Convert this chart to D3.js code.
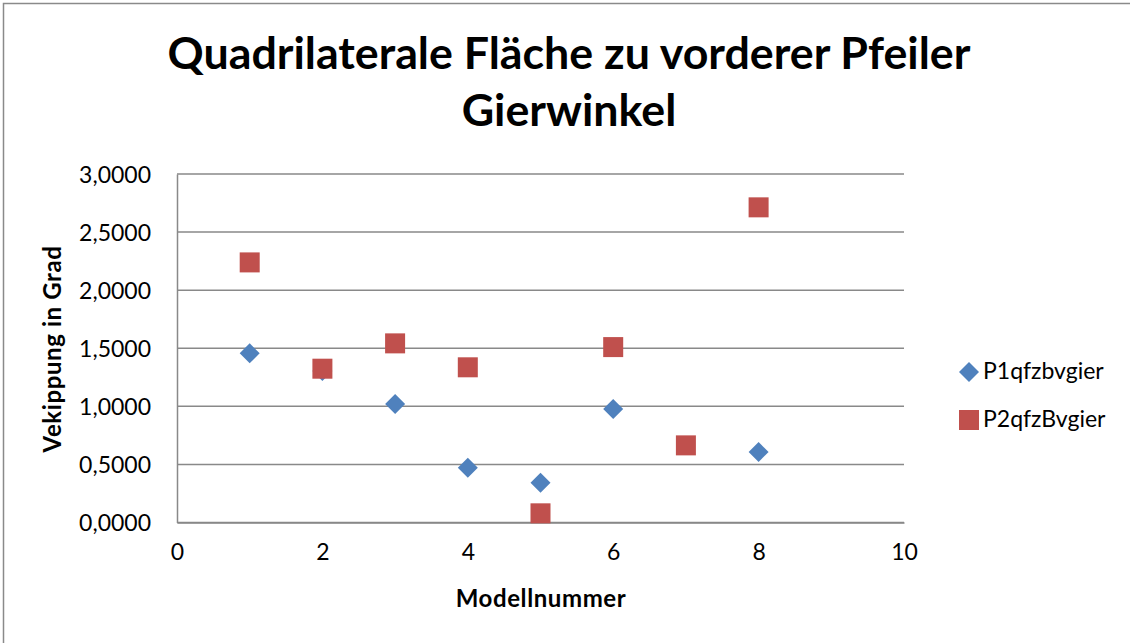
<!DOCTYPE html>
<html>
<head>
<meta charset="utf-8">
<script src="https://cdn.jsdelivr.net/npm/d3@7"></script>
<style>
  html, body { margin: 0; padding: 0; background: #fff; }
  svg { display: block; font-family: Lato, "Open Sans", "DejaVu Sans", sans-serif; }
</style>
</head>
<body>
<svg id="chart" width="1130" height="643"></svg>
<script>
// Model numbers and measured yaw values (degrees)
const models1 = [1, 2, 3, 4, 5, 6, 8];
const p1Values = [1.456, 1.305, 1.020, 0.472, 0.343, 0.977, 0.607];
const models2 = [1, 2, 3, 4, 5, 6, 7, 8];
const p2Values = [2.239, 1.324, 1.542, 1.336, 0.079, 1.510, 0.664, 2.713];
const seriesNames = ["P1qfzbvgier", "P2qfzBvgier"];
const xTicks = [0, 2, 4, 6, 8, 10];
const yTicks = [0, 0.5, 1, 1.5, 2, 2.5, 3];
const titleLines = ["Quadrilaterale Fläche zu vorderer Pfeiler", "Gierwinkel"];
const xTitle = "Modellnummer";
const yTitle = "Vekippung in Grad";

const svg = d3.select("#chart");
const blue = "#4F81BD", red = "#C0504D", gridColor = "#898989";

// chart frame
svg.append("rect")
  .attr("x", 3.5).attr("y", 3.5).attr("width", 1140).attr("height", 660)
  .attr("fill", "#fff").attr("stroke", "#8a8a8a").attr("stroke-width", 1.5);

const plot = { left: 177, right: 904, top: 174, bottom: 522.5 };
const x = d3.scaleLinear().domain([0, 10]).range([plot.left, plot.right]);
const y = d3.scaleLinear().domain([0, 3]).range([plot.bottom, plot.top]);

// horizontal gridlines
svg.append("g").selectAll("line").data(yTicks).join("line")
  .attr("x1", plot.left).attr("x2", plot.right)
  .attr("y1", d => y(d)).attr("y2", d => y(d))
  .attr("stroke", gridColor).attr("stroke-width", 1.5);

const fmt = d => d3.format(".4f")(d).replace(".", ",");

// y axis
const yAxis = svg.append("g").attr("transform", `translate(${plot.left},0)`)
  .call(d3.axisLeft(y).tickValues(yTicks).tickFormat(fmt).tickSize(0).tickPadding(26));
yAxis.select(".domain").attr("stroke", gridColor).attr("stroke-width", 1.5);
yAxis.selectAll("text").attr("font-size", 23).attr("fill", "#000")
  .attr("font-family", "Lato, sans-serif").attr("dy", "0.36em");

// x axis
const xAxis = svg.append("g").attr("transform", `translate(0,${plot.bottom})`)
  .call(d3.axisBottom(x).tickValues(xTicks).tickFormat(d3.format("d")).tickSize(0).tickPadding(26));
xAxis.select(".domain").attr("stroke", gridColor).attr("stroke-width", 1.5);
xAxis.selectAll("text").attr("font-size", 23).attr("fill", "#000")
  .attr("font-family", "Lato, sans-serif").attr("dy", "0.5em");

// title
const title = svg.append("g");
title.selectAll("text").data(titleLines).join("text")
  .attr("x", 569).attr("y", (d, i) => 69 + i * 57)
  .attr("text-anchor", "middle")
  .attr("font-weight", "bold").attr("font-size", 38)
  .text(d => d);
// fit the first line to its width
const t0 = title.select("text").node();
const w0 = t0.getComputedTextLength();
const scaleF = 803 / w0;
title.selectAll("text").attr("font-size", 38 * scaleF);

// axis titles
svg.append("text").attr("x", 541).attr("y", 607)
  .attr("text-anchor", "middle").attr("font-weight", "bold").attr("font-size", 24)
  .attr("letter-spacing", 0.6)
  .text(xTitle);
svg.append("text")
  .attr("transform", "translate(61,349) rotate(-90)")
  .attr("text-anchor", "middle").attr("font-weight", "bold").attr("font-size", 24)
  .attr("letter-spacing", 0.6)
  .text(yTitle);

// markers
const diamond = d3.symbol().type(d3.symbolSquare).size(200);
svg.append("g").selectAll("path").data(models1.map((m, i) => [m, p1Values[i]])).join("path")
  .attr("d", diamond)
  .attr("transform", d => `translate(${x(d[0])},${y(d[1])}) rotate(45)`)
  .attr("fill", blue);

svg.append("g").selectAll("rect").data(models2.map((m, i) => [m, p2Values[i]])).join("rect")
  .attr("x", d => x(d[0]) - 10).attr("y", d => y(d[1]) - 10)
  .attr("width", 20).attr("height", 20)
  .attr("fill", red);

// legend
const legend = svg.append("g");
legend.append("path").attr("d", diamond)
  .attr("transform", "translate(969,372) rotate(45)").attr("fill", blue);
legend.append("rect").attr("x", 959).attr("y", 410).attr("width", 20).attr("height", 20).attr("fill", red);
legend.selectAll("text").data(seriesNames).join("text")
  .attr("x", 983).attr("y", (d, i) => 379 + i * 48)
  .attr("font-size", 23)
  .text(d => d);
</script>
</body>
</html>
